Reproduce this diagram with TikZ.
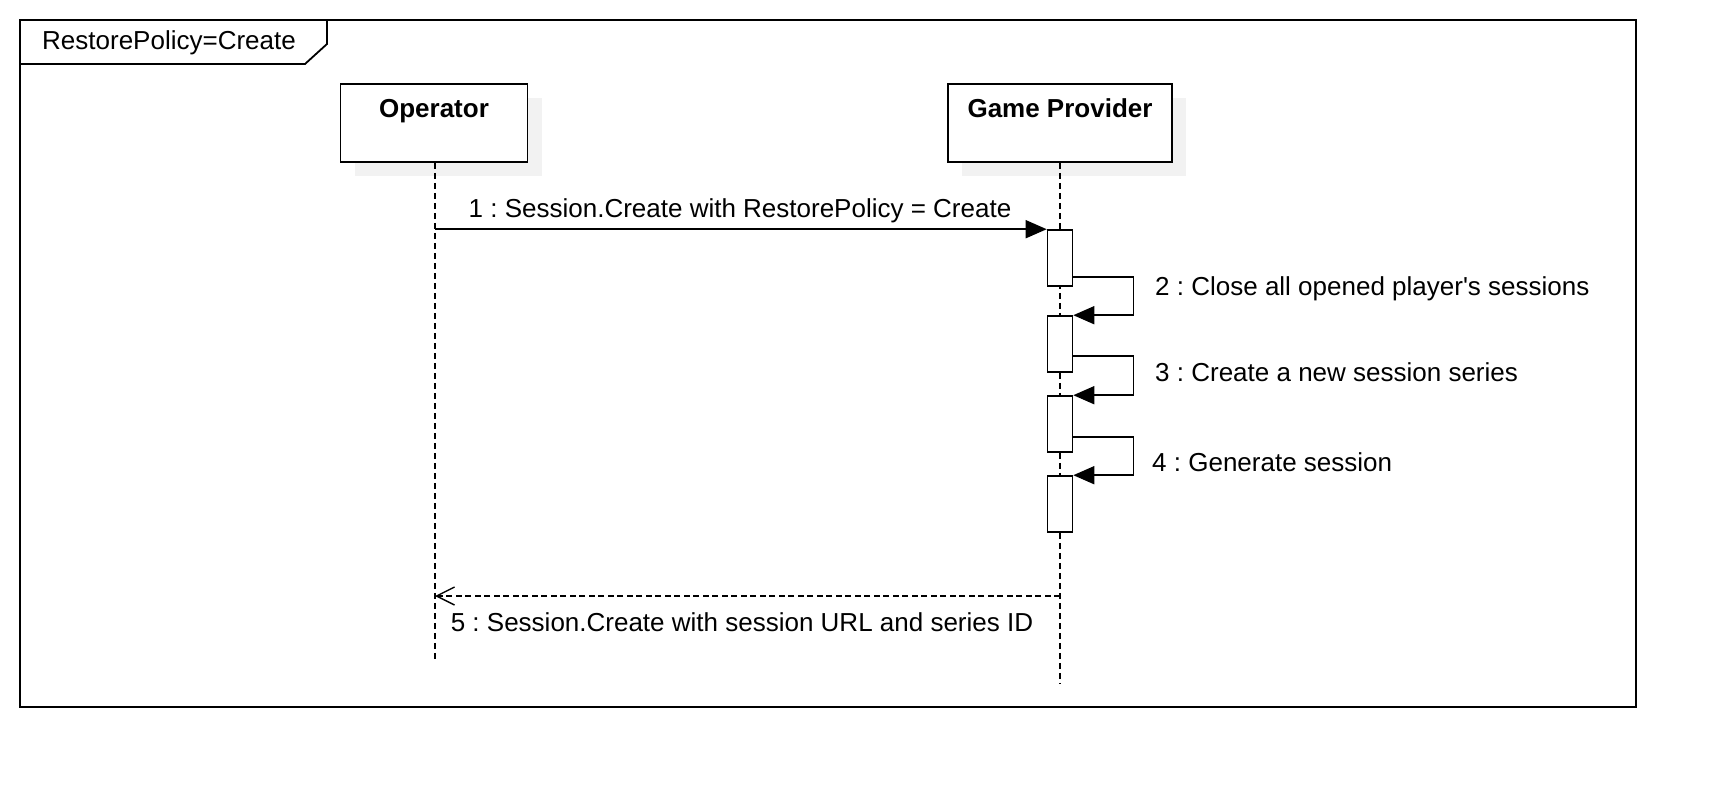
\documentclass[tikz,border=0pt]{standalone}
\usepackage{fontspec}
\setmainfont{Liberation Sans}[Ligatures=TeXOff]
\usetikzlibrary{arrows.meta,shadows}
\frenchspacing

\begin{document}
\begin{tikzpicture}
  [x=1pt,y=-1pt,
   every node/.style={font=\fontsize{26}{31}\selectfont,inner sep=0pt},
   actor/.style={draw,line width=1.8pt,fill=white,minimum height=78pt,
     drop shadow={shadow xshift=14pt,shadow yshift=-14pt,fill=gray!10,opacity=1}},
   bar/.style={draw,line width=1.6pt,fill=white,minimum width=25pt,minimum height=56pt},
   lifeline/.style={line width=1.5pt,dash pattern=on 6pt off 4pt},
   msg/.style={line width=1.6pt,-{Triangle[length=21pt,width=18pt]}},
   reply/.style={line width=1.6pt,dash pattern=on 6pt off 3.5pt,
     -{Straight Barb[length=18pt,width=18pt,line width=1.4pt]}},
   msglabel/.style={anchor=base west}]
  \useasboundingbox (0,0) rectangle (1716,788);

  % frame and its tab
  \draw[line width=1.8pt] (20,20) rectangle (1636,707);
  \draw[line width=1.8pt] (20,20) -- (327,20) -- (327,44) -- (305,64) -- (20,64) -- cycle;
  \node[msglabel] (frame-name) at (42,49) {RestorePolicy=Create};

  % participants
  \node[actor,minimum width=187pt] (op) at (434,123) {};
  \node[anchor=base] (op-name) at (434,117) {\bfseries Operator};
  \node[actor,minimum width=224pt] (gp) at (1060,123) {};
  \node[anchor=base] (gp-name) at (1060,117) {\bfseries Game Provider};

  \coordinate (op-end) at (435,660);
  \coordinate (gp-end) at (1060,683);
  \draw[lifeline] (op.south -| op-end) -- (op-end);
  \draw[lifeline] (gp.south) -- (gp-end);

  \foreach \i/\y in {1/258,2/344,3/424,4/504}
    \node[bar] (act\i) at (1060,\y) {};

  % messages
  \draw[msg] (op-end |- act1.north) -- (act1.north west);
  \node[anchor=base] (m1) at (740,217) {1 : Session.Create with RestorePolicy = Create};

  \foreach \a/\b/\dy/\lx/\ly/\txt in {1/2/10/1155/295/{2 : Close all opened player's sessions},
      2/3/17/1155/381/{3 : Create a new session series},
      3/4/16/1152/471/{4 : Generate session}} {
    \draw[msg] ([yshift=\dy pt]act\a.south east) -- ++(60,0) |- (act\b.north east);
    \node[msglabel] (m\b) at (\lx,\ly) {\txt};
  }

  \coordinate (r5) at (1060,596);
  \draw[reply] (r5) -- (r5 -| op-end);
  \node[anchor=base] (m5) at (742,631) {5 : Session.Create with session URL and series ID};

\end{tikzpicture}
\end{document}
